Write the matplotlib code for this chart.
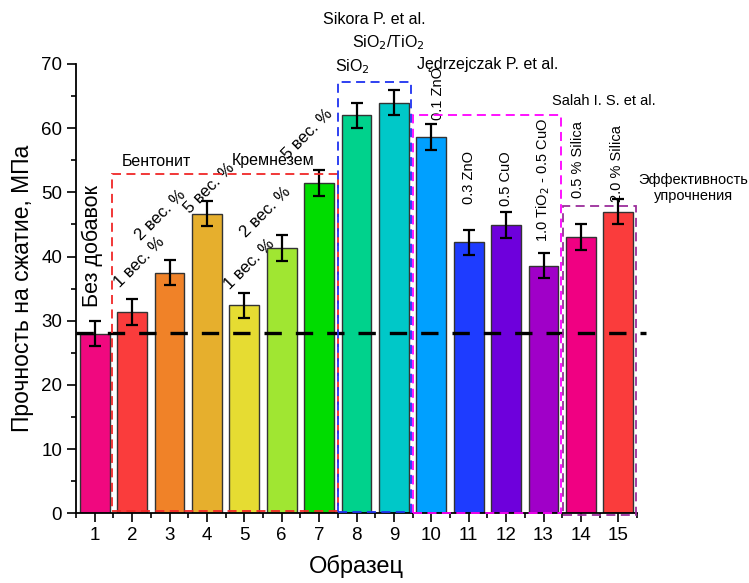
import matplotlib
matplotlib.use("Agg")
import matplotlib.pyplot as plt
from matplotlib.patches import Rectangle

plt.rcParams['font.family'] = ['Liberation Sans', 'DejaVu Sans']

samples = list(range(1, 16))
strength = [28.0, 31.4, 37.5, 46.7, 32.4, 41.3, 51.5, 62.0, 64.0, 58.6, 42.2, 44.9, 38.6, 43.0, 47.0]
errors = [2.0] * 15
colors = ['#F0087F', '#FA3C3C', '#F08228', '#E6AF2D', '#E6DC32', '#A0E632', '#00DC00',
          '#00D28C', '#00C8C8', '#00A0FF', '#1E3CFF', '#6E00DC', '#A000C8', '#F00082', '#FA3C3C']
baseline = 28.1

pct_labels = ['1 вес. %', '2 вес. %', '5 вес. %', '1 вес. %', '2 вес. %', '5 вес. %']
pct_pos = [(2.21, 39.1), (2.77, 46.5), (4.06, 50.7), (5.15, 38.8), (5.58, 46.9), (6.68, 59.1)]

vert_labels = ['0.1 ZnO', '0.3 ZnO', '0.5 CuO', '1.0 TiO$_2$ - 0.5 CuO', '0.5 % Silica', '2.0 % Silica']
vert_pos = [(10.18, 61.3), (11.0, 48.2), (12.0, 47.8), (12.98, 42.3), (13.92, 49.1), (14.97, 48.5)]

fig = plt.figure(figsize=(7.49, 5.83), dpi=100)
ax = fig.add_axes([76/749, 1-513.3/583, (637-76)/749, (513.3-64)/583])

ax.bar(samples, strength, width=0.8, color=colors, edgecolor='#333333', linewidth=1.0, zorder=2)
ax.errorbar(samples, strength, yerr=errors, fmt='none', ecolor='black', elinewidth=1.6,
            capsize=4, capthick=1.6, zorder=3)

ax.plot([0.5, 15.74], [baseline, baseline], color='black', lw=2.4, linestyle=(0, (5.2, 4.2)),
        clip_on=False, zorder=4)

boxes = [
    (1.46, 0.35, 7.5, 52.8, '#F02828'),
    (7.5, 0.15, 9.46, 67.2, '#1E32F0'),
    (9.5, 0.1, 13.47, 62.0, '#FF00FF'),
    (13.52, -0.27, 15.47, 47.9, '#9B2D9B'),
]
for x0, y0, x1, y1, c in boxes:
    ax.add_patch(Rectangle((x0, y0), x1 - x0, y1 - y0, fill=False, edgecolor=c, lw=1.3,
                           linestyle=(0, (5, 3)), clip_on=False, zorder=5))

ax.set_xlim(0.5, 15.5)
ax.set_ylim(0, 70)
ax.set_xticks(samples)
ax.set_xticks([i + 0.5 for i in range(0, 16)], minor=True)
ax.set_yticks(range(0, 71, 10))
ax.set_yticks(range(5, 70, 10), minor=True)
ax.tick_params(axis='both', which='major', direction='out', length=6.5, width=1.2, labelsize=13.5)
ax.tick_params(axis='both', which='minor', direction='out', length=3.6, width=1.2)
for s in ['top', 'right']:
    ax.spines[s].set_visible(False)
for s in ['left', 'bottom']:
    ax.spines[s].set_linewidth(1.3)

ax.set_xlabel('Образец', fontsize=17, labelpad=8)
ax.set_ylabel('Прочность на сжатие, МПа', fontsize=16.5, labelpad=5)

ax.text(0.94, 32.2, 'Без добавок', rotation=90, ha='center', va='bottom', fontsize=15.5)

for lab, (x, y) in zip(pct_labels, pct_pos):
    ax.text(x, y, lab, rotation=45, ha='center', va='center', fontsize=12)

for lab, (x, y) in zip(vert_labels, vert_pos):
    ax.text(x, y, lab, rotation=90, ha='center', va='bottom', fontsize=10.5)

def ftext(px, py, s, size=11.5, ha='left'):
    fig.text(px / 749, 1 - py / 583, s, ha=ha, va='center', fontsize=size)

ftext(122, 162, 'Бентонит')
ftext(232, 161, 'Кремнезем')
ftext(323, 20, 'Sikora P. et al.')
ftext(352, 43, 'SiO$_2$/TiO$_2$')
ftext(335, 67, 'SiO$_2$')
ftext(417, 65, 'Jędrzejczak P. et al.')
ftext(552, 101, 'Salah I. S. et al.', size=10.5)
fig.text(693 / 749, 1 - 188 / 583, 'Эффективность\nупрочнения', ha='center', va='center',
         fontsize=10.5, linespacing=1.2)

fig.savefig('out.png', dpi=100)
